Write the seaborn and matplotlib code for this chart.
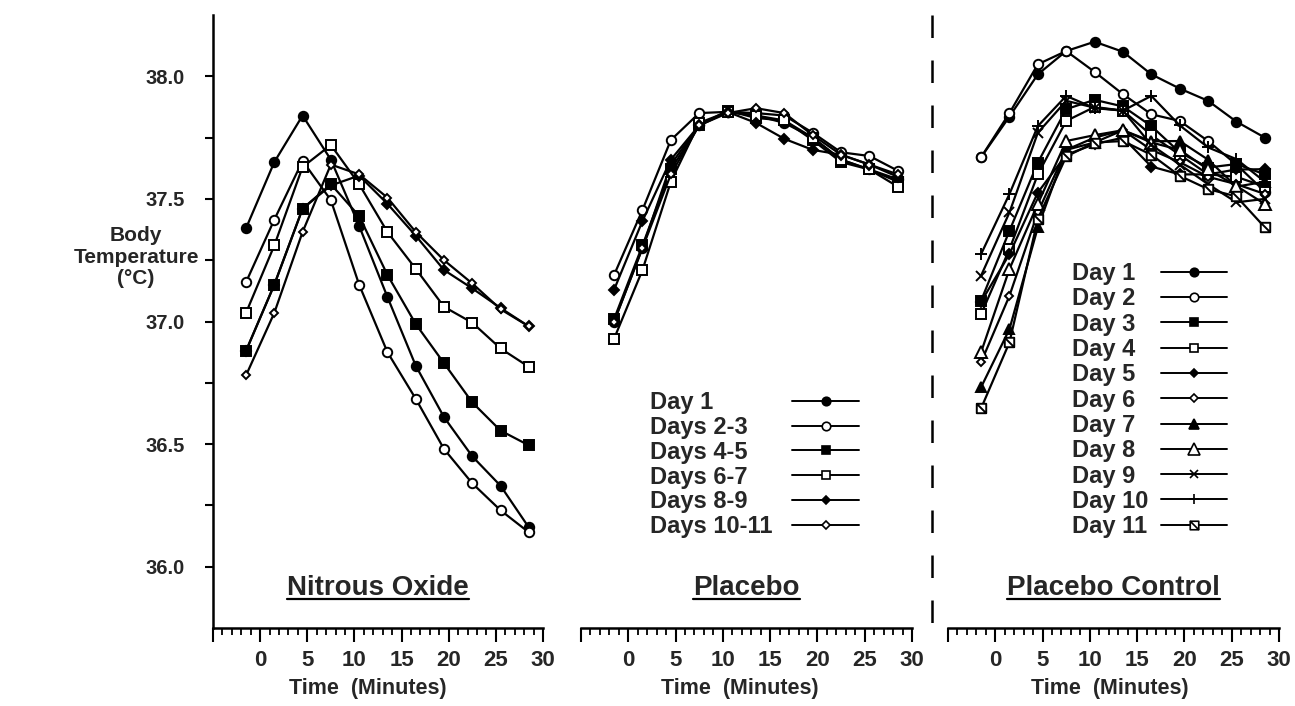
import matplotlib
matplotlib.use("Agg")
import matplotlib.pyplot as plt
from matplotlib.lines import Line2D
from matplotlib.path import Path
from matplotlib.ticker import MultipleLocator
import seaborn as sns

# sampling times (minutes), same for every curve
time_min = [-1.5, 1.5, 4.5, 7.5, 10.5, 13.5, 16.5, 19.5, 22.5, 25.5, 28.5]

# Nitrous Oxide
n2o_labels = ["Day 1", "Days 2-3", "Days 4-5", "Days 6-7", "Days 8-9", "Days 10-11"]
n2o_day1 = [37.38, 37.65, 37.84, 37.66, 37.39, 37.10, 36.82, 36.61, 36.45, 36.33, 36.16]
n2o_days23 = [37.16, 37.415, 37.655, 37.495, 37.15, 36.875, 36.685, 36.48, 36.34, 36.23, 36.14]
n2o_days45 = [36.88, 37.15, 37.46, 37.56, 37.43, 37.19, 36.99, 36.83, 36.67, 36.555, 36.495]
n2o_days67 = [37.035, 37.31, 37.63, 37.72, 37.56, 37.365, 37.215, 37.06, 36.995, 36.89, 36.815]
n2o_days89 = [36.88, 37.15, 37.46, 37.555, 37.595, 37.48, 37.35, 37.21, 37.135, 37.055, 36.98]
n2o_days1011 = [36.78, 37.035, 37.365, 37.64, 37.60, 37.505, 37.365, 37.25, 37.155, 37.05, 36.98]

# Placebo
plc_day1 = [37.00, 37.30, 37.64, 37.80, 37.855, 37.84, 37.81, 37.75, 37.66, 37.62, 37.58]
plc_days23 = [37.19, 37.455, 37.74, 37.85, 37.855, 37.85, 37.84, 37.77, 37.69, 37.675, 37.615]
plc_days45 = [37.01, 37.31, 37.62, 37.80, 37.86, 37.83, 37.82, 37.74, 37.65, 37.62, 37.57]
plc_days67 = [36.93, 37.21, 37.57, 37.81, 37.855, 37.84, 37.82, 37.75, 37.66, 37.62, 37.55]
plc_days89 = [37.13, 37.41, 37.66, 37.80, 37.855, 37.81, 37.745, 37.70, 37.68, 37.64, 37.59]
plc_days1011 = [37.00, 37.30, 37.60, 37.80, 37.85, 37.87, 37.85, 37.76, 37.68, 37.64, 37.60]

# Placebo Control
ctl_labels = ["Day 1", "Day 2", "Day 3", "Day 4", "Day 5", "Day 6",
              "Day 7", "Day 8", "Day 9", "Day 10", "Day 11"]
ctl_day1 = [37.67, 37.836, 38.008, 38.103, 38.141, 38.10, 38.008, 37.95, 37.90, 37.815, 37.75]
ctl_day2 = [37.67, 37.85, 38.049, 38.103, 38.018, 37.927, 37.845, 37.818, 37.736, 37.64, 37.53]
ctl_day3 = [37.085, 37.37, 37.648, 37.866, 37.904, 37.877, 37.797, 37.69, 37.628, 37.642, 37.60]
ctl_day4 = [37.03, 37.295, 37.60, 37.818, 37.875, 37.86, 37.76, 37.68, 37.60, 37.59, 37.55]
ctl_day5 = [37.08, 37.275, 37.526, 37.68, 37.723, 37.75, 37.632, 37.60, 37.60, 37.62, 37.621]
ctl_day6 = [36.834, 37.105, 37.445, 37.70, 37.75, 37.78, 37.70, 37.65, 37.59, 37.56, 37.52]
ctl_day7 = [36.732, 36.969, 37.384, 37.70, 37.73, 37.78, 37.735, 37.736, 37.66, 37.55, 37.57]
ctl_day8 = [36.875, 37.214, 37.48, 37.736, 37.76, 37.78, 37.73, 37.70, 37.62, 37.553, 37.479]
ctl_day9 = [37.187, 37.445, 37.77, 37.90, 37.872, 37.86, 37.72, 37.64, 37.56, 37.486, 37.50]
ctl_day10 = [37.275, 37.52, 37.797, 37.92, 37.87, 37.86, 37.92, 37.80, 37.71, 37.662, 37.57]
ctl_day11 = [36.646, 36.915, 37.418, 37.673, 37.73, 37.736, 37.68, 37.594, 37.54, 37.51, 37.384]

y_ticks = [36.0, 36.25, 36.5, 36.75, 37.0, 37.25, 37.5, 37.75, 38.0]
y_tick_labels = ["36.0", "", "36.5", "", "37.0", "", "37.5", "", "38.0"]
x_ticks = [-5, 0, 5, 10, 15, 20, 25, 30]
x_tick_labels = ["", "0", "5", "10", "15", "20", "25", "30"]

# square with a slash, used for day 11
slash_sq = Path([(-1, -1), (1, -1), (1, 1), (-1, 1), (-1, -1), (-1, 1), (1, -1)],
                [Path.MOVETO, Path.LINETO, Path.LINETO, Path.LINETO, Path.CLOSEPOLY,
                 Path.MOVETO, Path.LINETO])

# (marker, filled, size)
group_style = [("o", True, 6.8), ("o", False, 6.8), ("s", True, 6.8),
               ("s", False, 6.8), ("D", True, 4.8), ("D", False, 4.0)]
ctl_style = [("o", True, 6.8), ("o", False, 6.8), ("s", True, 6.8), ("s", False, 6.8),
             ("D", True, 4.8), ("D", False, 4.0), ("^", True, 7.5), ("^", False, 9),
             ("x", False, 7), ("+", False, 8.5), (slash_sq, False, 6.8)]

sns.set_style("ticks")
plt.rcParams["font.family"] = ["Liberation Sans", "DejaVu Sans"]
plt.rcParams["font.weight"] = "bold"

W, H = 1295, 706
fig = plt.figure(figsize=(W / 100, H / 100), dpi=100)
fig.patch.set_facecolor("white")


def box(left, right, top, bottom):
    return [left / W, 1 - bottom / H, (right - left) / W, (bottom - top) / H]


ax1 = fig.add_axes(box(213, 543, 15, 628))
ax2 = fig.add_axes(box(581, 912, 15, 628))
ax3 = fig.add_axes(box(948, 1279, 15, 628))


def draw(ax, values, style, label):
    marker, filled, ms = style
    sns.lineplot(x=time_min, y=values, ax=ax, color="black", lw=1.6, marker=marker,
                 ms=ms, mfc="black" if filled else "white", mec="black", mew=1.4,
                 errorbar=None, legend=False, label=label)


for vals, st, lab in zip([n2o_day1, n2o_days23, n2o_days45, n2o_days67, n2o_days89, n2o_days1011],
                         group_style, n2o_labels):
    draw(ax1, vals, st, lab)
for vals, st, lab in zip([plc_day1, plc_days23, plc_days45, plc_days67, plc_days89, plc_days1011],
                         group_style, n2o_labels):
    draw(ax2, vals, st, lab)
for vals, st, lab in zip([ctl_day1, ctl_day2, ctl_day3, ctl_day4, ctl_day5, ctl_day6,
                          ctl_day7, ctl_day8, ctl_day9, ctl_day10, ctl_day11],
                         ctl_style, ctl_labels):
    draw(ax3, vals, st, lab)

for ax, title, lab_x in [(ax1, "Nitrous Oxide", 0.47), (ax2, "Placebo", 0.48),
                         (ax3, "Placebo Control", 0.49)]:
    ax.set_xlim(-5, 30)
    ax.set_ylim(35.75, 38.25)
    ax.set_facecolor("white")
    sns.despine(ax=ax, left=(ax is not ax1))
    for s in ["bottom", "left"]:
        ax.spines[s].set_linewidth(1.8)
        ax.spines[s].set_color("black")
    ax.set_xticks(x_ticks)
    ax.set_xticklabels(x_tick_labels)
    ax.xaxis.set_minor_locator(MultipleLocator(1))
    ax.tick_params(axis="x", which="major", length=10, width=1.5, direction="out",
                   pad=6, labelsize=16, color="black")
    ax.tick_params(axis="x", which="minor", length=5, width=1.3, direction="out",
                   color="black")
    ax.set_xlabel("Time  (Minutes)", fontsize=15.5, fontweight="bold")
    ax.xaxis.set_label_coords(lab_x, -0.082)
    ax.set_ylabel("")
    for t in ax.get_xticklabels():
        t.set_fontweight("bold")
    ax.text(0.5, 0.054, title, transform=ax.transAxes, ha="center", va="baseline",
            fontsize=20, fontweight="bold")

ax1.set_yticks(y_ticks)
ax1.set_yticklabels(y_tick_labels)
ax1.tick_params(axis="y", length=6, width=1.5, direction="out", pad=14, labelsize=14.5,
                color="black")
for t in ax1.get_yticklabels():
    t.set_fontweight("bold")
for ax in (ax2, ax3):
    ax.tick_params(axis="y", left=False, labelleft=False)

fig.text(136 / W, 1 - 257 / H, "Body\nTemperature\n(°C)", ha="center", va="center",
         fontsize=15, fontweight="bold", linespacing=1.15)

# dashed separator between placebo and control
fig.add_artist(Line2D([932 / W, 932 / W], [1 - 15 / H, 1 - 624 / H], transform=fig.transFigure,
                      color="black", lw=1.8, linestyle=(0, (9, 9))))


def legend_block(labels, styles, text_x, line_x0, line_x1, row0, pitch):
    for i, (lab, (marker, filled, ms)) in enumerate(zip(labels, styles)):
        yc = 1 - (row0 + i * pitch) / H
        fig.text(text_x / W, yc - 8.5 / H, lab, ha="left", va="baseline",
                 fontsize=17, fontweight="bold")
        fig.add_artist(Line2D([line_x0 / W, line_x1 / W], [yc, yc], transform=fig.transFigure,
                              color="black", lw=1.4))
        fig.add_artist(Line2D([(line_x0 + line_x1) / 2 / W], [yc], transform=fig.transFigure,
                              marker=marker, ms=ms * 0.9, mfc="black" if filled else "white",
                              mec="black", mew=1.2, linestyle="none"))


legend_block(n2o_labels, group_style, 650, 792, 859, 401, 24.7)
legend_block(ctl_labels, ctl_style, 1072, 1161, 1227, 271.7, 25.3)

# underline the panel titles
fig.canvas.draw()
renderer = fig.canvas.get_renderer()
for ax in (ax1, ax2, ax3):
    t = ax.texts[0]
    bb = t.get_window_extent(renderer)
    base = ax.transAxes.transform((0.5, 0.054))[1]
    y = (base - 4) / H
    fig.add_artist(Line2D([bb.x0 / W, bb.x1 / W], [y, y], transform=fig.transFigure,
                          color="black", lw=1.6))

fig.savefig("out.png", dpi=100, facecolor="white")
